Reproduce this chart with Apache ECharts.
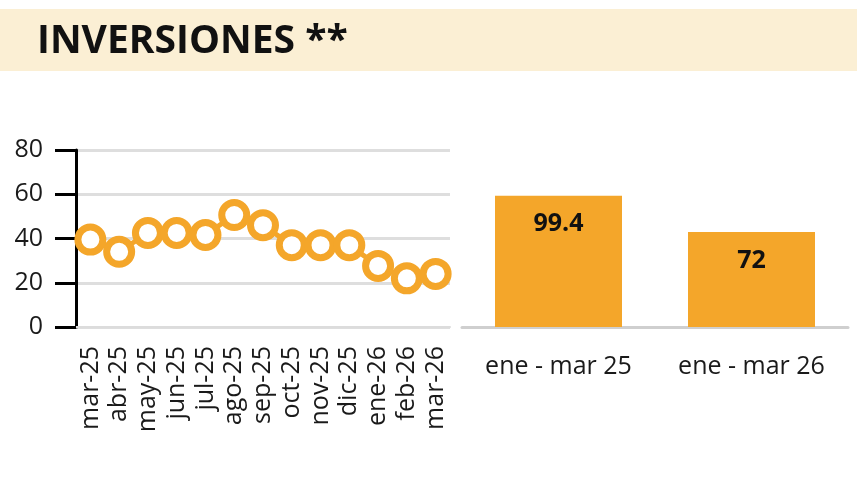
<!DOCTYPE html>
<html>

<head>
  <meta charset="utf-8">
  <title>Inversiones</title>
  <script src="https://cdn.jsdelivr.net/npm/echarts@6/dist/echarts.min.js"></script>
  <style>
    body { margin: 0; background: #fff; }
  </style>
</head>

<body>
  <div id="main" style="width: 857px; height: 477px;"></div>
  <script type="text/javascript">
    // monthly series (left) and period totals (right)
    var months = ['mar-25', 'abr-25', 'may-25', 'jun-25', 'jul-25', 'ago-25', 'sep-25',
      'oct-25', 'nov-25', 'dic-25', 'ene-26', 'feb-26', 'mar-26'];
    var monthValues = [39.5, 34, 42.5, 42.5, 41.6, 50.6, 46, 37, 37, 37, 27.6, 22, 24];
    var yTicks = [0, 20, 40, 60, 80];

    var periods = ['ene - mar 25', 'ene - mar 26'];
    var periodValues = [99.4, 72];

    var orange = '#F4A62A';
    var font = '"Open Sans", "Noto Sans", sans-serif';

    var myChart = echarts.init(document.getElementById('main'));

    myChart.setOption({
      animation: false,
      graphic: [{
        type: 'rect',
        shape: { x: 0, y: 9, width: 857, height: 62 },
        style: { fill: '#FBEFD4' }
      }, {
        type: 'text',
        left: 37,
        top: 22,
        style: {
          text: 'INVERSIONES **',
          fontFamily: font,
          fontWeight: 'bold',
          fontSize: 39,
          fill: '#111'
        }
      }],
      grid: [
        { left: 76, top: 150, width: 374, height: 177 },
        { left: 462, top: 150, width: 386, height: 177 }
      ],
      xAxis: [{
        gridIndex: 0,
        type: 'category',
        data: months,
        boundaryGap: true,
        axisLine: { lineStyle: { color: '#dcdcdc', width: 2 } },
        axisTick: { show: false },
        axisLabel: {
          rotate: 90,
          margin: 19,
          fontFamily: font,
          fontSize: 25,
          color: '#1a1a1a',
          interval: 0
        }
      }, {
        gridIndex: 1,
        type: 'category',
        data: periods,
        axisLine: { lineStyle: { color: '#cfcfcf', width: 3 } },
        axisTick: { alignWithLabel: true, length: 22, lineStyle: { color: '#cfcfcf', width: 3 } },
        axisLabel: {
          margin: 27,
          fontFamily: font,
          fontSize: 25,
          color: '#1a1a1a'
        }
      }],
      yAxis: [{
        gridIndex: 0,
        type: 'value',
        min: yTicks[0],
        max: yTicks[yTicks.length - 1],
        interval: 20,
        axisLine: { show: true, lineStyle: { color: '#000', width: 3 } },
        axisTick: { show: true, length: 21, lineStyle: { color: '#000', width: 3 } },
        splitLine: { lineStyle: { color: '#dedede', width: 3 } },
        axisLabel: {
          margin: 33,
          fontFamily: font,
          fontSize: 25,
          color: '#1a1a1a'
        }
      }, {
        gridIndex: 1,
        type: 'value',
        min: 0,
        max: 134,
        show: false
      }],
      series: [{
        type: 'line',
        xAxisIndex: 0,
        yAxisIndex: 0,
        data: monthValues,
        symbol: 'circle',
        symbolSize: 25,
        lineStyle: { color: orange, width: 5 },
        itemStyle: { color: '#fff', borderColor: orange, borderWidth: 7 },
        z: 3
      }, {
        type: 'bar',
        xAxisIndex: 1,
        yAxisIndex: 1,
        data: periodValues,
        barWidth: 127,
        itemStyle: { color: orange },
        label: {
          show: true,
          position: 'insideTop',
          distance: 16,
          fontFamily: font,
          fontWeight: 'bold',
          fontSize: 25,
          color: '#111'
        }
      }]
    });
  </script>
</body>

</html>
